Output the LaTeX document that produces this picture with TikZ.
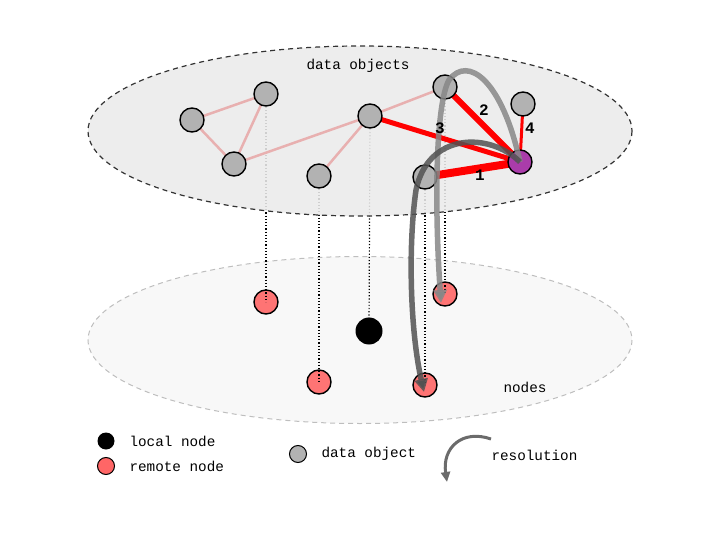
\documentclass[tikz,border=0pt]{standalone}
\usepackage{fontspec}
\setmonofont{Liberation Mono}
\usetikzlibrary{arrows.meta}
\definecolor{objgray}{RGB}{178,178,178}
\definecolor{remred}{RGB}{255,102,102}
\definecolor{purp}{RGB}{170,60,170}
\definecolor{pinkedge}{RGB}{232,176,176}
\definecolor{topfill}{RGB}{235,235,235}
\definecolor{botfill}{RGB}{248,248,248}
\definecolor{botline}{RGB}{190,190,190}
\tikzset{
  obj/.style={circle,draw=black,line width=1.4pt,fill=objgray,minimum size=24pt,inner sep=0pt},
  remote/.style={circle,draw=black,line width=1.4pt,fill=remred,fill opacity=0.9,minimum size=24pt,inner sep=0pt},
  localn/.style={circle,fill=black,minimum size=27pt,inner sep=0pt},
  purpn/.style={circle,draw=black,line width=1.4pt,fill=purp,minimum size=24pt,inner sep=0pt},
  weak/.style={draw=pinkedge,line width=2.5pt},
  strong/.style={draw=red},
  proj/.style={line width=1.2pt,dotted},
  lab/.style={font=\ttfamily\fontsize{14.3}{14.3}\selectfont},
  num/.style={font=\ttfamily\bfseries\fontsize{16}{16}\selectfont},
  resol/.style={line width=5.5pt,-{Triangle[length=13pt,width=13pt]},draw opacity=0.85},
  layerline/.style={dash pattern=on 5pt off 4pt},
}
\begin{document}
\begin{tikzpicture}[x=1pt,y=-1pt]
\useasboundingbox (0,0) rectangle (720,540);
% lower layer
\draw[botline,layerline,line width=1pt,fill=botfill] (360,340) ellipse [x radius=272,y radius=83.5];
% nodes in lower layer
\node[remote] (r1) at (266,302) {};
\node[remote] (r2) at (319,382) {};
\node[localn] (lo) at (369,331) {};
\node[remote] (r3) at (445,294) {};
\node[remote] (r4) at (425,385) {};
% data object positions
\coordinate (pa) at (192,120);
\coordinate (pb) at (266,94);
\coordinate (pc) at (234,164);
\coordinate (pd) at (370,116);
\coordinate (pe) at (319,176);
\coordinate (pf) at (445,87);
\coordinate (pg) at (523,104);
\coordinate (ph) at (425,177);
\coordinate (pp) at (520,162);
% projections
\draw[proj] (pb) -- (r1.center);
\draw[proj] (pe) -- (r2.center);
\draw[proj] (pd) -- (lo.center);
\draw[proj] (ph) -- (r4.center);
\draw[proj] (pf) -- (r3.center);
% upper layer
\draw[black!80,layerline,line width=1.2pt,fill=topfill,fill opacity=0.88] (360,131) ellipse [x radius=272,y radius=85];
\node[lab] (tdo) at (358,66) {data objects};
\node[lab] (tno) at (525,387) {nodes};
% weak edges
\draw[weak] (pa) -- (pb);
\draw[weak] (pa) -- (pc);
\draw[weak] (pb) -- (pc);
\draw[weak] (pc) -- (pd);
\draw[weak] (pd) -- (pe);
\draw[weak] (pd) -- (pf);
% strong edges
\draw[strong,line width=8pt] (ph) -- (pp);
\draw[strong,line width=6pt] (pf) -- (pp);
\draw[strong,line width=5pt] (pd) -- (pp);
\draw[strong,line width=3pt] (pg) -- (pp);
% data objects
\node[obj] (a) at (pa) {};
\node[obj] (b) at (pb) {};
\node[obj] (c) at (pc) {};
\node[obj] (d) at (pd) {};
\node[obj] (e) at (pe) {};
\node[obj] (f) at (pf) {};
\node[obj] (g) at (pg) {};
\node[obj] (h) at (ph) {};
\node[purpn] (p) at (pp) {};
% resolution arrows
\draw[resol,draw=black!47] (p.center) .. controls (502,80) and (468,55) .. (449,80) .. controls (436,103) and (434,200) .. (441,303);
\draw[resol,draw=black!68] (p.center) .. controls (490,132) and (428,132) .. (416,190) .. controls (408,245) and (410,330) .. (424,392);
% numbers
\node[num] (n1) at (480,175) {1};
\node[num] (n2) at (484,110) {2};
\node[num] (n3) at (440,128) {3};
\node[num] (n4) at (530,128) {4};
% legend
\node[circle,fill=black,minimum size=17pt,inner sep=0pt] (ll) at (106,441) {};
\node[lab,anchor=west] (llt) at (126,441) {local node};
\node[circle,draw=black,line width=1pt,fill=remred,minimum size=17pt,inner sep=0pt] (lr) at (106,466) {};
\node[lab,anchor=west] (lrt) at (126,466) {remote node};
\node[circle,draw=black,line width=1pt,fill=objgray,minimum size=17pt,inner sep=0pt] (lg) at (298,454) {};
\node[lab,anchor=west] (lgt) at (318,454) {data object};
\coordinate (ra) at (491,439);
\coordinate (rb) at (447,482);
\draw[line width=3pt,black!58,-{Triangle[length=10pt,width=9pt]}] (ra) .. controls (462,429) and (442,448) .. (rb);
\node[lab,anchor=west] (lrest) at (488,455) {resolution};
\end{tikzpicture}
\end{document}
